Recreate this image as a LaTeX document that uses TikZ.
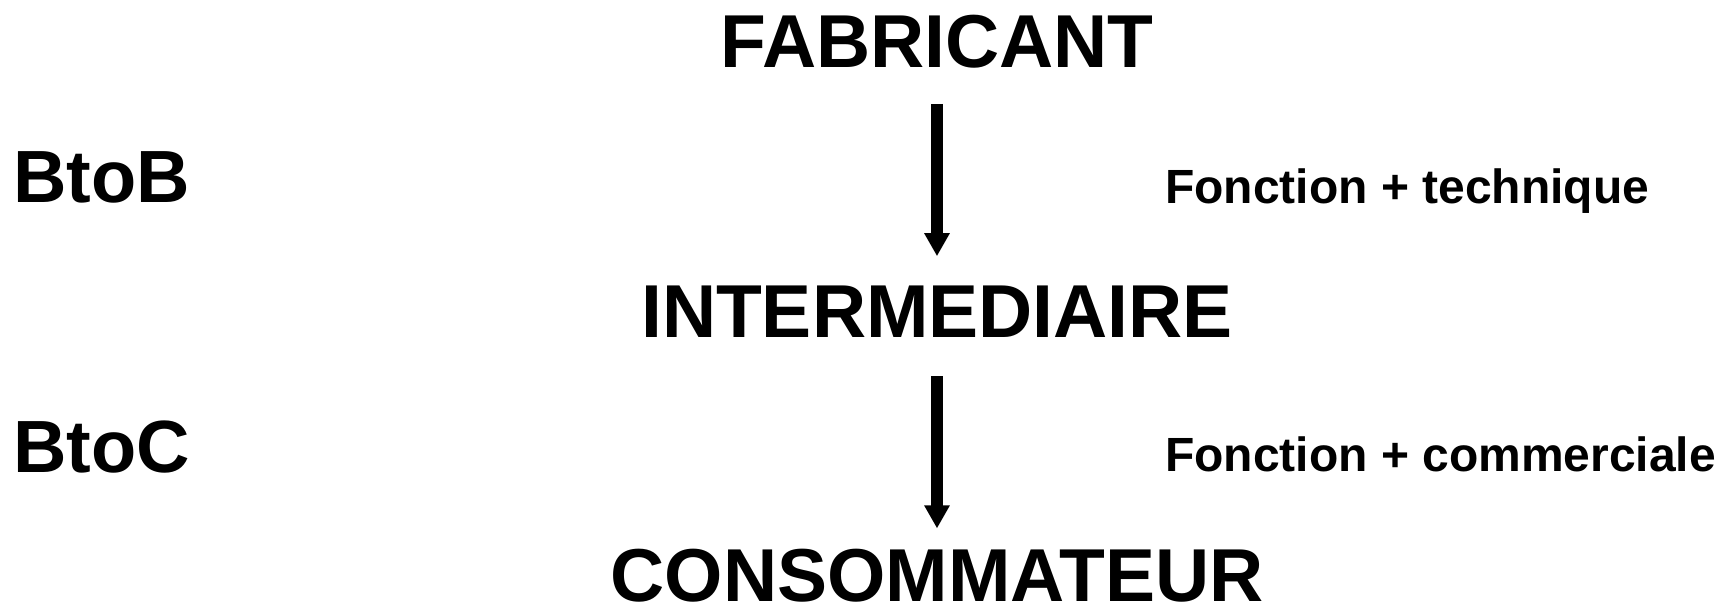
\documentclass[tikz,border=0pt]{standalone}
\usepackage{fontspec}
\setmainfont{Liberation Sans}
\usetikzlibrary{arrows.meta}
\tikzset{
  level/.style={inner sep=0pt, anchor=base, font=\fontsize{75}{90}\selectfont\bfseries},
  kind/.style={inner sep=0pt, anchor=base west, font=\fontsize{74}{90}\selectfont\bfseries},
  role/.style={inner sep=0pt, anchor=base west, font=\fontsize{48}{58}\selectfont\bfseries},
  flow/.style={line width=12pt, -{Triangle[width=24pt,length=23pt]}},
}
\begin{document}
\begin{tikzpicture}[x=1pt,y=-1pt]
  \useasboundingbox (0,0) rectangle (1724,608);
  % chain of actors
  \node[level] (fab) at (937,67) {FABRICANT};
  \node[level] (int) at (937,337) {INTERMEDIAIRE};
  \node[level] (con) at (937,601) {CONSOMMATEUR};
  % relation types
  \node[kind] (btob) at (13,202) {BtoB};
  \node[kind] (btoc) at (13,472) {BtoC};
  % function of the intermediary
  \node[role] (tech) at (1165,203) {Fonction + technique};
  \node[role] (comm) at (1165,471) {Fonction + commerciale};
  % flows
  \draw[flow, shorten <=36pt, shorten >=29pt] (fab.south) -- (int.north);
  \draw[flow, shorten <=39pt, shorten >=20pt] (int.south) -- (con.north);
\end{tikzpicture}
\end{document}
